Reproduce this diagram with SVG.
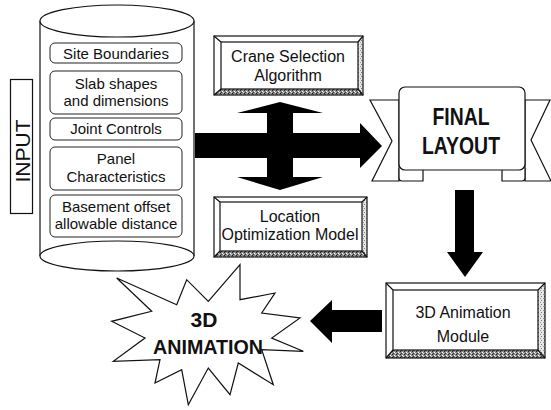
<svg xmlns="http://www.w3.org/2000/svg" width="551" height="410" viewBox="0 0 551 410">
<style>
.ln{fill:none;stroke:#111;stroke-width:1.2}
.wf{fill:#fff;stroke:#111;stroke-width:1.2}
.ib{fill:#fff;stroke:#222;stroke-width:1}
.t{font-family:"Liberation Sans",Arial,sans-serif;fill:#111;text-anchor:middle}
.s15{font-size:15px}
.s16{font-size:16px}
.b{font-weight:bold}
.arr{fill:#000;stroke:none}
</style>
<defs>
<pattern id="dark" width="4" height="3" patternUnits="userSpaceOnUse">
<rect width="4" height="3" fill="#8a8a8a"/>
<rect x="0" y="0" width="1" height="1" fill="#222"/>
<rect x="2" y="1" width="1" height="1" fill="#fff"/>
<rect x="1" y="2" width="1" height="1" fill="#333"/>
<rect x="3" y="2" width="1" height="1" fill="#ddd"/>
</pattern>
<pattern id="light" width="3" height="4" patternUnits="userSpaceOnUse">
<rect width="3" height="4" fill="#e6e6e6"/>
<rect x="1" y="0" width="1" height="1" fill="#777"/>
<rect x="0" y="2" width="1" height="1" fill="#999"/>
</pattern>
</defs>

<g id="input-label">
<rect x="10.5" y="79.5" width="22" height="134" class="wf" stroke-width="1"/>
<text class="t" font-size="21" transform="translate(29.5,151) rotate(-90)">INPUT</text>
</g>

<g id="input-database">
<path d="M40,21 L40,256 M194,21 L194,256" class="ln"/>
<ellipse cx="117" cy="21" rx="77" ry="16" class="wf"/>
<ellipse cx="117" cy="256" rx="77" ry="15" class="wf"/>
<g id="site-boundaries">
<rect x="50" y="43" width="132" height="20" rx="5" class="ib"/>
<text class="t s15" x="116" y="59">Site Boundaries</text>
</g>
<g id="slab-shapes">
<rect x="50" y="71" width="132" height="43" rx="5" class="ib"/>
<text class="t s15" x="116" y="89">Slab shapes</text>
<text class="t s15" x="116" y="106">and dimensions</text>
</g>
<g id="joint-controls">
<rect x="50" y="118" width="132" height="22" rx="5" class="ib"/>
<text class="t s15" x="116" y="134">Joint Controls</text>
</g>
<g id="panel-characteristics">
<rect x="50" y="147" width="132" height="43" rx="5" class="ib"/>
<text class="t s15" x="116" y="164">Panel</text>
<text class="t s15" x="116" y="182">Characteristics</text>
</g>
<g id="basement-offset">
<rect x="50" y="195" width="132" height="42" rx="5" class="ib"/>
<text class="t s15" x="116" y="212">Basement offset</text>
<text class="t s15" x="116" y="229">allowable distance</text>
</g>
</g>

<g id="crane-selection">
<rect x="214" y="36" width="149" height="59" fill="#fff"/>
<polygon points="214,95 363,95 358,89 221,89" fill="url(#dark)"/>
<polygon points="363,36 363,95 358,89 358,42" fill="url(#light)"/>
<rect x="214" y="36" width="149" height="59" class="ln"/>
<rect x="221" y="42" width="137" height="47" class="ln" stroke-width="1"/>
<path d="M214,36 L221,42 M363,36 L358,42 M214,95 L221,89 M363,95 L358,89" class="ln" stroke-width="1"/>
<text class="t s16" x="288" y="62">Crane Selection</text>
<text class="t s16" x="288" y="81">Algorithm</text>
</g>

<g id="location-optimization">
<rect x="214" y="197" width="153" height="60" fill="#fff"/>
<polygon points="214,257 367,257 362,251 220,251" fill="url(#dark)"/>
<polygon points="367,197 367,257 362,251 362,202" fill="url(#light)"/>
<rect x="214" y="197" width="153" height="60" class="ln"/>
<rect x="220" y="202" width="142" height="49" class="ln" stroke-width="1"/>
<path d="M214,197 L220,202 M367,197 L362,202 M214,257 L220,251 M367,257 L362,251" class="ln" stroke-width="1"/>
<text class="t s16" x="290" y="222">Location</text>
<text class="t s16" x="290" y="240">Optimization Model</text>
</g>

<g id="final-layout">
<polygon points="399,100 370,100 392,141 372,181 399,181" class="wf"/>
<polygon points="525,100 550,100 531,140 551,181 525,181" class="wf"/>
<path d="M399,168 L399,178 Q399,181 402,181 L423,181 L423,168" class="wf"/>
<path d="M525,168 L525,178 Q525,181 522,181 L502,181 L502,168" class="wf"/>
<rect x="399" y="87" width="126" height="83" rx="6" class="wf"/>
<text class="t b" font-size="24" x="461" y="125" textLength="57" lengthAdjust="spacingAndGlyphs">FINAL</text>
<text class="t b" font-size="24" x="461" y="154" textLength="78" lengthAdjust="spacingAndGlyphs">LAYOUT</text>
</g>

<g id="animation-module">
<rect x="386" y="283" width="159" height="75" fill="#fff"/>
<polygon points="386,358 545,358 538,350 393,350" fill="url(#dark)"/>
<polygon points="545,283 545,358 538,350 538,290" fill="url(#light)"/>
<rect x="386" y="283" width="159" height="75" class="ln"/>
<rect x="393" y="290" width="145" height="60" class="ln" stroke-width="1"/>
<path d="M386,283 L393,290 M545,283 L538,290 M386,358 L393,350 M545,358 L538,350" class="ln" stroke-width="1"/>
<text class="t s16" x="463" y="318">3D Animation</text>
<text class="t s16" x="463" y="342">Module</text>
</g>

<g id="animation-burst">
<polygon class="wf" points="155,383 181.7,369.7 188.3,404.7 208.3,368 230,394.7 238.3,363 273.3,384.7 261.7,349.7 303.3,351.3 271.7,338 300,318 261.7,313 275,293 240,299.7 240,264.7 208.3,301.3 186.7,279.7 176.7,304.7 116.7,278 151.7,311.3 111.7,321.3 145,338 113.3,361.3 160,359.7"/>
<text class="t b" font-size="21" x="204" y="327">3D</text>
<text class="t b" font-size="21" x="208" y="354" textLength="110" lengthAdjust="spacingAndGlyphs">ANIMATION</text>
</g>

<g id="connectors">
<path class="arr" d="M195,133 L267,133 L267,113 L237,113 L280,102 L323,113 L293,113 L293,133 L360,133 L360,123 L382,146 L360,168 L360,158 L293,158 L293,177 L323,177 L280,190 L237,177 L267,177 L267,158 L195,158 Z"/>
<path class="arr" d="M455,190 L474,190 L474,252 L483,252 L465,277 L447,252 L455,252 Z"/>
<path class="arr" d="M382,310 L382,332 L332,332 L332,343 L310,321 L332,300 L332,310 Z"/>
</g>
</svg>
